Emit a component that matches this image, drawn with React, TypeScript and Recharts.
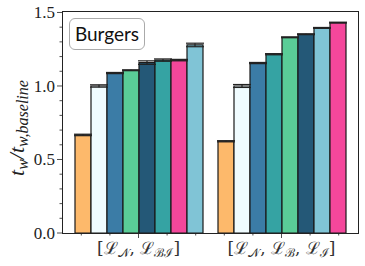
import React from 'react';
import { BarChart, Bar, XAxis, YAxis, Cell, ErrorBar } from 'recharts';

const categories = ['LN_LBI', 'LN_LB_LI'];

// bar heights per position, left to right inside each group
const group1Values = [0.667, 1.0, 1.088, 1.107, 1.159, 1.176, 1.176, 1.279];
const group2Values = [0.624, 1.0, 1.156, 1.216, 1.331, 1.352, 1.395, 1.431];
const group1Errors = [0.005, 0.008, 0.004, 0.003, 0.012, 0.008, 0.005, 0.012];
const group2Errors = [0.004, 0.01, 0.004, 0.004, 0.003, 0.003, 0.003, 0.003];

const group1Colors = ['#fdb96b', '#f0fcff', '#3b7ca6', '#5acd97', '#245877', '#35a3a3', '#f4479b', '#80c4d6'];
const group2Colors = ['#fdb96b', '#f0fcff', '#3b7ca6', '#35a3a3', '#5acd97', '#245877', '#80c4d6', '#f4479b'];

const yTicks = [0, 0.1, 0.2, 0.3, 0.4, 0.5, 0.6, 0.7, 0.8, 0.9, 1.0, 1.1, 1.2, 1.3, 1.4, 1.5];

const groupValues = [group1Values, group2Values];
const groupErrors = [group1Errors, group2Errors];
const groupColors = [group1Colors, group2Colors];

const data = categories.map((name, g) => {
  const row: Record<string, number | string> = { name };
  groupValues[g].forEach((v, i) => {
    row['v' + i] = v;
    row['e' + i] = groupErrors[g][i];
  });
  return row;
});

const SERIF = '"Liberation Serif", "DejaVu Serif", serif';
const MATH = '"DejaVu Serif", "Liberation Serif", serif';

const YTick = (props: any) => {
  const { x, y, payload } = props;
  const v = payload.value;
  const major = Math.abs(v * 2 - Math.round(v * 2)) < 1e-6;
  return (
    <g>
      <line x1={x} x2={x - (major ? 5 : 2.5)} y1={y} y2={y} stroke="#222" strokeWidth={0.8} />
      {major && (
        <text x={x - 7} y={y + 6} textAnchor="end" fontFamily={SERIF} fontSize={17} fill="#222">
          {v.toFixed(1)}
        </text>
      )}
    </g>
  );
};

const XTick = (props: any) => {
  const { x, y, index } = props;
  const step = 143 * 0.2;
  const minor = [-2, -1, 1, 2];
  const ty = y + 21;
  return (
    <g>
      <line x1={x} x2={x} y1={y} y2={y + 5} stroke="#222" strokeWidth={0.8} />
      {minor.map((k) => (
        <line key={k} x1={x + k * step} x2={x + k * step} y1={y} y2={y + 2.5} stroke="#222" strokeWidth={0.8} />
      ))}
      {index === 0 ? (
        <text x={x} y={ty} textAnchor="middle" fontFamily={MATH} fontSize={17} fill="#333">
          <tspan>[ℒ</tspan>
          <tspan fontSize={12} dy={3}>𝒩</tspan>
          <tspan dy={-3}>, ℒ</tspan>
          <tspan fontSize={12} dy={3}>ℬℐ</tspan>
          <tspan dy={-3}>]</tspan>
        </text>
      ) : (
        <text x={x} y={ty} textAnchor="middle" fontFamily={MATH} fontSize={17} fill="#333">
          <tspan>[ℒ</tspan>
          <tspan fontSize={12} dy={3}>𝒩</tspan>
          <tspan dy={-3}>, ℒ</tspan>
          <tspan fontSize={12} dy={3}>ℬ</tspan>
          <tspan dy={-3}>, ℒ</tspan>
          <tspan fontSize={12} dy={3}>ℐ</tspan>
          <tspan dy={-3}>]</tspan>
        </text>
      )}
    </g>
  );
};

const App: React.FC = () => {
  return (
    <div style={{ position: 'absolute', left: 0, top: 0, width: 365, height: 266, background: '#fff' }}>
      <BarChart
        width={365}
        height={266}
        data={data}
        margin={{ top: 11, right: 7, bottom: 0, left: 0 }}
        barGap={0}
        barSize={16}
      >
        <XAxis
          dataKey="name"
          height={33}
          padding={{ left: 5, right: 5 }}
          axisLine={false}
          tickLine={false}
          tickSize={0}
          tickMargin={0}
          tick={<XTick />}
          interval={0}
        />
        <YAxis
          width={62}
          domain={[0, 1.51]}
          ticks={yTicks}
          axisLine={false}
          tickLine={false}
          tickSize={0}
          tickMargin={0}
          tick={<YTick />}
          interval={0}
        />
        {group1Values.map((_, i) => (
          <Bar key={i} dataKey={'v' + i} stroke="#1a1a1a" strokeWidth={1.2} isAnimationActive={false}>
            {categories.map((c, g) => (
              <Cell key={c} fill={groupColors[g][i]} />
            ))}
            <ErrorBar dataKey={'e' + i} width={9} stroke="#222" strokeWidth={1.2} />
          </Bar>
        ))}
      </BarChart>
      <div
        style={{
          position: 'absolute',
          left: 62,
          top: 11,
          width: 295,
          height: 221,
          border: '1px solid #222',
          pointerEvents: 'none',
        }}
      />
      <div
        style={{
          position: 'absolute',
          left: 69,
          top: 18,
          width: 74,
          height: 30,
          border: '1px solid #aaa',
          borderRadius: 6,
          background: 'rgba(255,255,255,0.85)',
          fontFamily: 'Lato, "DejaVu Sans", sans-serif',
          fontSize: 19,
          lineHeight: '30px',
          textAlign: 'center',
          color: '#111',
        }}
      >
        Burgers
      </div>
      <svg style={{ position: 'absolute', left: 0, top: 0 }} width={40} height={266}>
        <text
          transform="translate(24,128) rotate(-90)"
          textAnchor="middle"
          fontFamily={SERIF}
          fontStyle="italic"
          fontSize={22}
          fill="#222"
        >
          <tspan>t</tspan>
          <tspan fontSize={16} dy={4}>w</tspan>
          <tspan dy={-4}>/t</tspan>
          <tspan fontSize={16} dy={4}>w,baseline</tspan>
        </text>
      </svg>
    </div>
  );
};

export default App;
